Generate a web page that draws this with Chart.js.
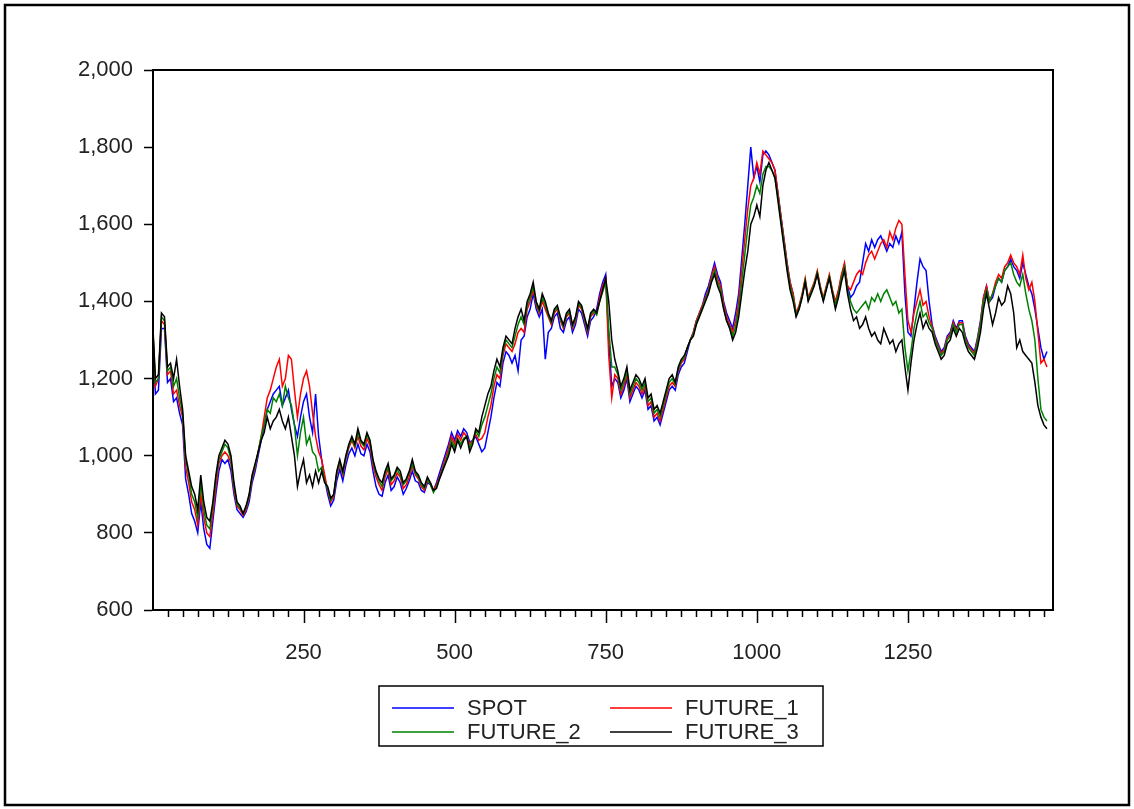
<!DOCTYPE html>
<html>
<head>
<meta charset="utf-8">
<script src="https://cdn.jsdelivr.net/npm/chart.js@4.4.1/dist/chart.umd.min.js"></script>
<style>
  html, body { margin: 0; padding: 0; background: #fff; }
  #wrap { width: 1134px; height: 809px; position: relative; }
</style>
</head>
<body>
<div id="wrap"><canvas id="myChart" width="1134" height="809"></canvas></div>
<script>
// observation step used when reading the picture
const STEP = 5
const obs = []
for (let i = 0; i < 297; i++) obs.push(i * STEP)

const seriesNames = ['SPOT', 'FUTURE_1', 'FUTURE_2', 'FUTURE_3']
const seriesColors = ['#0000ff', '#ff0000', '#008000', '#000000']

// one row = 50 observations
const spot = [
  1340, 1160, 1170, 1330, 1330, 1190, 1200, 1140, 1150, 1110,
  1080, 940, 900, 850, 830, 800, 880, 810, 770, 760,
  830, 900, 960, 990, 980, 990, 960, 900, 860, 850,
  840, 855, 880, 930, 960, 1000, 1040, 1080, 1120, 1140,
  1160, 1170, 1180, 1130, 1150, 1170, 1120, 1080, 1050, 1100,
  1140, 1160, 1100, 1060, 1160, 1050, 990, 940, 900, 870,
  885, 935, 965, 935, 975, 1005, 1020, 1000, 1030, 1005,
  1000, 1030, 1010, 960, 920, 900, 895, 930, 950, 910,
  920, 945, 930, 900, 915, 935, 960, 935, 930, 910,
  905, 930, 925, 910, 930, 955, 980, 1005, 1030, 1060,
  1040, 1065, 1050, 1070, 1060, 1035, 1040, 1050, 1030, 1010,
  1020, 1060, 1100, 1150, 1190, 1180, 1240, 1270, 1260, 1240,
  1260, 1220, 1300, 1310, 1360, 1380, 1420, 1380, 1360, 1380,
  1250, 1320, 1330, 1360, 1370, 1330, 1320, 1350, 1360, 1320,
  1340, 1380, 1370, 1340, 1310, 1350, 1360, 1380, 1420, 1450,
  1470, 1300, 1180, 1200, 1190, 1150, 1170, 1200, 1140, 1160,
  1180, 1170, 1150, 1170, 1120, 1130, 1090, 1100, 1080, 1110,
  1140, 1170, 1180, 1170, 1210, 1230, 1240, 1270, 1300, 1320,
  1350, 1370, 1390, 1420, 1440, 1470, 1500, 1470, 1450, 1400,
  1370, 1350, 1330, 1370, 1420, 1510, 1600, 1700, 1800, 1720,
  1750, 1710, 1780, 1790, 1780, 1760, 1740, 1680, 1620, 1560,
  1500, 1450, 1420, 1365, 1385, 1415, 1455, 1405, 1425, 1445,
  1475, 1435, 1405, 1435, 1465, 1425, 1395, 1425, 1465, 1495,
  1440, 1410, 1420, 1440, 1450, 1500, 1550, 1530, 1560, 1540,
  1560, 1570, 1550, 1530, 1550, 1540, 1570, 1550, 1580, 1420,
  1320, 1310, 1380, 1450, 1510, 1490, 1480, 1400, 1340, 1310,
  1290, 1270, 1280, 1310, 1320, 1350, 1330, 1350, 1350, 1310,
  1290, 1280, 1270, 1305, 1350, 1410, 1440, 1400, 1410, 1440,
  1460, 1450, 1480, 1490, 1510, 1490, 1480, 1460, 1500, 1470,
  1440, 1420, 1380, 1330, 1280, 1250, 1270
]

const future1 = [
  1350, 1180, 1200, 1350, 1340, 1210, 1220, 1160, 1170, 1130,
  1100, 970, 930, 880, 860, 820, 900, 840, 800, 790,
  850, 920, 980, 1000, 1010, 1000, 980, 910, 870, 860,
  845, 860, 890, 940, 970, 1010, 1050, 1100, 1150, 1170,
  1200, 1230, 1250, 1180, 1200, 1260, 1250, 1170, 1100, 1160,
  1200, 1220, 1180, 1110, 1050, 1010, 990, 950, 910, 880,
  895, 950, 980, 950, 990, 1020, 1040, 1020, 1050, 1025,
  1015, 1045, 1025, 975, 945, 925, 910, 945, 965, 925,
  935, 955, 945, 915, 925, 945, 975, 950, 940, 920,
  910, 935, 930, 910, 925, 945, 970, 995, 1020, 1050,
  1030, 1055, 1040, 1060, 1050, 1030, 1040, 1055, 1040, 1045,
  1060, 1100, 1130, 1180, 1210, 1200, 1260, 1290, 1280, 1270,
  1290, 1320, 1330, 1320, 1380, 1400, 1430, 1390, 1370, 1400,
  1380, 1360, 1340, 1370, 1380, 1350, 1330, 1360, 1370, 1330,
  1350, 1390, 1380, 1350, 1320, 1360, 1370, 1370, 1410, 1440,
  1460, 1260, 1150, 1210, 1200, 1160, 1180, 1210, 1150, 1170,
  1190, 1180, 1160, 1180, 1130, 1140, 1100, 1110, 1090, 1120,
  1150, 1180, 1190, 1180, 1220, 1240, 1250, 1280, 1300, 1320,
  1350, 1370, 1390, 1410, 1430, 1465, 1490, 1460, 1440, 1395,
  1360, 1340, 1320, 1350, 1400, 1480, 1560, 1640, 1700, 1720,
  1760, 1730, 1790, 1780, 1770, 1760, 1740, 1680, 1620, 1560,
  1500, 1450, 1420, 1370, 1390, 1420, 1460, 1410, 1430, 1450,
  1480, 1440, 1410, 1440, 1470, 1430, 1400, 1430, 1470, 1500,
  1440, 1430, 1450, 1470, 1480, 1470, 1500, 1520, 1530, 1510,
  1530, 1550, 1560, 1540, 1580, 1560, 1590, 1610, 1600, 1470,
  1350, 1320, 1370, 1400, 1430, 1390, 1400, 1360, 1335, 1305,
  1285, 1265, 1275, 1305, 1315, 1345, 1325, 1345, 1345, 1305,
  1285, 1275, 1265, 1300, 1345, 1410, 1440, 1400, 1420, 1450,
  1470, 1460, 1490, 1500, 1520, 1500, 1490, 1470, 1520, 1460,
  1430, 1450, 1400, 1320, 1240, 1250, 1230
]

const future2 = [
  1350, 1190, 1200, 1360, 1350, 1220, 1230, 1180, 1200, 1150,
  1110, 990, 950, 900, 880, 840, 930, 860, 820, 810,
  870, 940, 990, 1010, 1030, 1020, 990, 920, 875, 865,
  850, 865, 895, 945, 975, 1010, 1050, 1080, 1120, 1110,
  1150, 1140, 1160, 1130, 1180, 1150, 1130, 1080, 1000, 1060,
  1100, 1030, 1050, 1010, 1000, 960, 970, 935, 915, 885,
  900, 955, 985, 955, 995, 1025, 1045, 1025, 1060, 1035,
  1025, 1055, 1035, 985, 955, 935, 920, 955, 970, 935,
  945, 965, 950, 925, 935, 955, 980, 955, 945, 925,
  915, 940, 925, 905, 920, 940, 965, 985, 1010, 1040,
  1020, 1045, 1030, 1045, 1050, 1020, 1040, 1065, 1050, 1080,
  1100, 1130, 1160, 1200, 1230, 1215, 1270, 1300, 1290, 1280,
  1310, 1340, 1360, 1340, 1390, 1410, 1440, 1395, 1375, 1410,
  1390, 1365, 1345, 1375, 1385, 1355, 1335, 1365, 1375, 1335,
  1355, 1395, 1385, 1355, 1325, 1365, 1375, 1365, 1400, 1425,
  1450, 1330, 1230, 1230, 1210, 1170, 1190, 1220, 1160, 1180,
  1200, 1190, 1170, 1190, 1140, 1150, 1110, 1120, 1100, 1130,
  1160, 1190, 1200, 1185, 1225, 1245, 1255, 1280, 1300, 1315,
  1345, 1365, 1385, 1405, 1425, 1455, 1480, 1450, 1430, 1385,
  1350, 1335, 1310, 1335, 1380, 1450, 1520, 1590, 1650, 1670,
  1700, 1680, 1730, 1750, 1750, 1740, 1720, 1670, 1610, 1550,
  1490, 1440, 1410, 1365, 1385, 1415, 1455, 1405, 1425, 1445,
  1475, 1435, 1405, 1435, 1465, 1425, 1390, 1420, 1460, 1490,
  1430, 1400, 1380, 1370, 1380, 1390, 1400, 1380, 1410, 1400,
  1420, 1400, 1420, 1430, 1410, 1390, 1400, 1370, 1380, 1280,
  1220, 1270, 1330, 1370, 1400, 1360, 1370, 1345, 1330, 1300,
  1280, 1260, 1270, 1300, 1310, 1340, 1320, 1340, 1340, 1300,
  1280, 1270, 1260, 1295, 1340, 1400, 1430, 1400, 1420, 1440,
  1460, 1450, 1480, 1490, 1500, 1470, 1450, 1440, 1470, 1420,
  1380, 1350, 1300, 1200, 1120, 1100, 1090
]

const future3 = [
  1360, 1200, 1210, 1370, 1360, 1230, 1240, 1200, 1250, 1180,
  1120, 1000, 960, 920, 900, 860, 950, 880, 840, 830,
  880, 950, 1000, 1020, 1040, 1030, 1000, 930, 880, 870,
  850, 870, 900, 950, 980, 1010, 1040, 1060, 1100, 1070,
  1090, 1100, 1120, 1090, 1070, 1100, 1050, 1000, 920, 960,
  990, 930, 950, 920, 960, 930, 960, 930, 920, 890,
  900, 960, 990, 960, 1000, 1030, 1050, 1030, 1070, 1040,
  1030, 1060, 1040, 990, 960, 940, 930, 960, 980, 940,
  950, 970, 960, 930, 940, 960, 990, 960, 950, 930,
  920, 945, 930, 910, 915, 940, 960, 980, 1000, 1030,
  1010, 1040, 1020, 1040, 1050, 1010, 1030, 1070, 1060, 1100,
  1130, 1160, 1180, 1220, 1250, 1230, 1280, 1310, 1300, 1290,
  1330, 1360, 1380, 1350, 1400, 1420, 1450, 1400, 1380, 1420,
  1400, 1370, 1350, 1380, 1390, 1360, 1340, 1370, 1380, 1340,
  1360, 1400, 1390, 1360, 1330, 1370, 1380, 1370, 1400, 1430,
  1460, 1400, 1300, 1250, 1220, 1180, 1200, 1230, 1170, 1190,
  1210, 1200, 1180, 1200, 1150, 1160, 1120, 1130, 1110, 1140,
  1170, 1200, 1210, 1190, 1230, 1250, 1260, 1280, 1300, 1310,
  1340, 1360, 1380, 1400, 1420, 1450, 1470, 1440, 1420, 1380,
  1350, 1330, 1300, 1320, 1360, 1420, 1480, 1530, 1600, 1620,
  1650, 1620, 1700, 1740, 1760, 1740, 1720, 1660, 1600, 1540,
  1480, 1430, 1400, 1360, 1380, 1410, 1450, 1400, 1420, 1440,
  1470, 1430, 1400, 1430, 1460, 1420, 1380, 1410, 1450, 1480,
  1420, 1380, 1350, 1360, 1330, 1340, 1360, 1330, 1310, 1320,
  1300, 1290, 1330, 1310, 1290, 1300, 1270, 1290, 1300, 1230,
  1170, 1240, 1300, 1340, 1370, 1330, 1350, 1330, 1320, 1290,
  1270, 1250, 1260, 1290, 1300, 1330, 1310, 1330, 1320, 1290,
  1270, 1260, 1250, 1280, 1320, 1380, 1420, 1380, 1340, 1370,
  1410, 1390, 1400, 1440, 1420, 1370, 1280, 1300, 1270, 1260,
  1250, 1240, 1190, 1130, 1100, 1080, 1070
]

const yTicks = [600, 800, 1000, 1200, 1400, 1600, 1800, 2000]
const xTicks = [250, 500, 750, 1000, 1250]

const FONT = 'Liberation Sans, Arial, sans-serif'
const TEXT = '#222'
const allSeries = [spot, future1, future2, future3]

// outer frame, box around plot, minor x ticks, legend box
const framePlugin = {
  id: 'frame',
  afterDraw(chart) {
    const ctx = chart.ctx
    const a = chart.chartArea
    const xs = chart.scales.x
    ctx.save()
    ctx.strokeStyle = '#000'
    ctx.lineWidth = 2.5
    ctx.strokeRect(5, 5, 1124, 800)
    ctx.lineWidth = 2
    ctx.strokeRect(a.left, a.top, a.right - a.left, a.bottom - a.top)
    // x ticks: every 25 obs, longer at labelled ones
    ctx.lineWidth = 1.5
    for (let v = 25; v < xs.max; v += 25) {
      const px = Math.round(xs.getPixelForValue(v)) + 0.5
      const len = v % 250 === 0 ? 13 : 7
      ctx.beginPath()
      ctx.moveTo(px, a.bottom)
      ctx.lineTo(px, a.bottom + len)
      ctx.stroke()
    }
    // legend
    ctx.lineWidth = 1.5
    ctx.strokeRect(379, 686, 444, 60)
    ctx.font = '22px ' + FONT
    ctx.textBaseline = 'middle'
    ctx.fillStyle = TEXT
    const cols = [392, 610]
    const rows = [708, 732]
    chart.data.datasets.forEach((ds, i) => {
      const cx = cols[i % 2], cy = rows[Math.floor(i / 2)]
      ctx.strokeStyle = ds.borderColor
      ctx.lineWidth = 1.5
      ctx.beginPath()
      ctx.moveTo(cx, cy)
      ctx.lineTo(cx + 62, cy)
      ctx.stroke()
      ctx.fillText(ds.label, cx + 75, cy + 1)
    })
    ctx.restore()
  }
}

const ctx = document.getElementById('myChart').getContext('2d')
const myChart = new Chart(ctx, {
  type: 'line',
  data: {
    datasets: seriesNames.map((name, i) => ({
      label: name,
      data: allSeries[i].map((v, j) => ({ x: obs[j], y: v })),
      borderColor: seriesColors[i],
      borderWidth: 1.5,
      pointRadius: 0,
      tension: 0,
      order: 3 - i
    }))
  },
  options: {
    responsive: false,
    animation: false,
    devicePixelRatio: 1,
    layout: { padding: { top: 70, right: 81, left: 0, bottom: 0 } },
    plugins: { legend: { display: false }, tooltip: { enabled: false } },
    scales: {
      x: {
        type: 'linear',
        min: 1,
        max: 1490,
        afterBuildTicks: (s) => { s.ticks = xTicks.map(v => ({ value: v })) },
        afterFit: (s) => { s.height = 199 },
        grid: { display: false },
        border: { display: true, color: '#000', width: 2 },
        ticks: {
          font: { size: 22, family: FONT }, color: TEXT, padding: 22, maxRotation: 0,
          callback: (v) => String(v)
        }
      },
      y: {
        min: 600,
        max: 2000,
        afterBuildTicks: (s) => { s.ticks = yTicks.map(v => ({ value: v })) },
        afterFit: (s) => { s.width = 153 },
        grid: { drawOnChartArea: false, drawTicks: true, tickLength: 9, tickColor: '#000', tickWidth: 1.5 },
        border: { display: true, color: '#000', width: 2 },
        ticks: { font: { size: 22, family: FONT }, color: TEXT, padding: 11 }
      }
    }
  },
  plugins: [framePlugin]
})
</script>
</body>
</html>
